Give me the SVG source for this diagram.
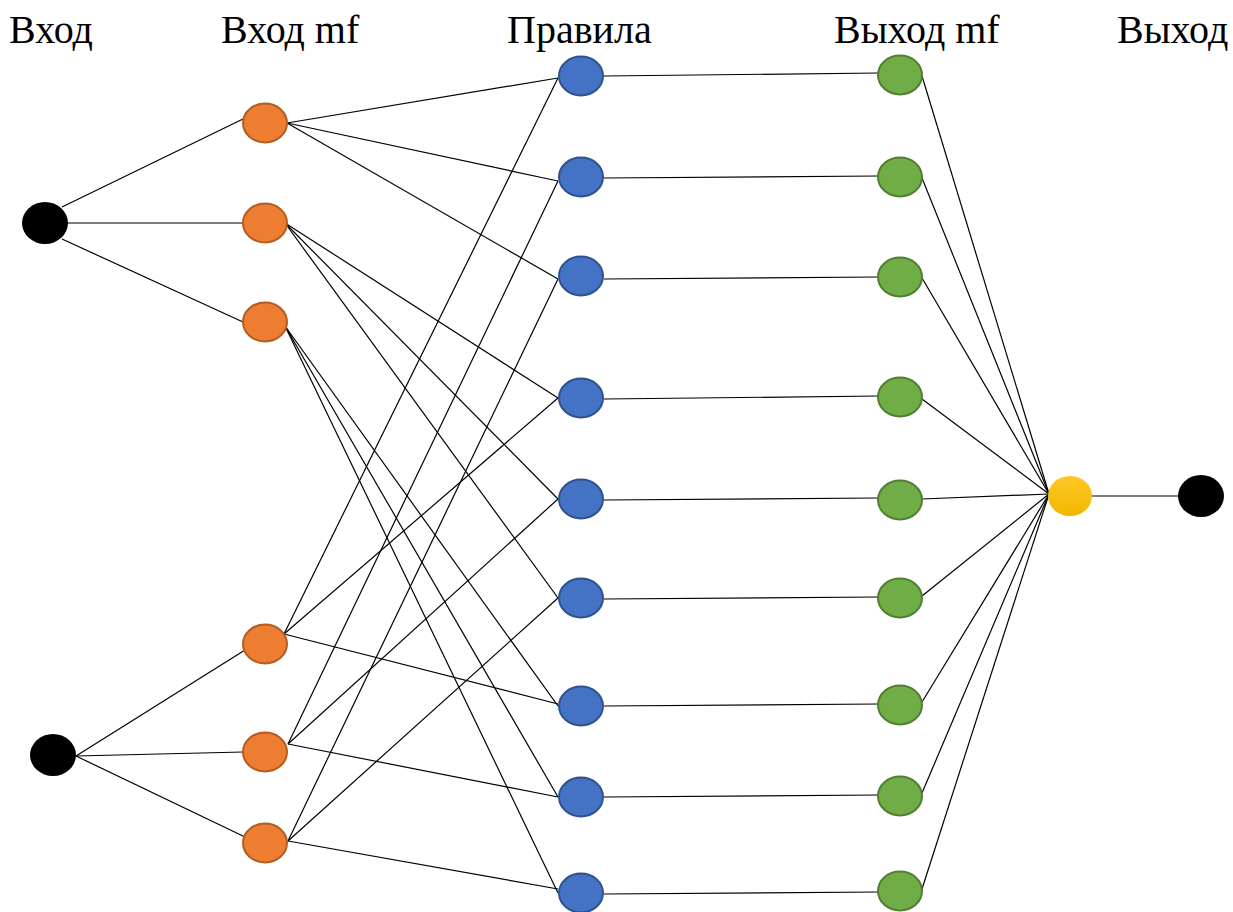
<svg xmlns="http://www.w3.org/2000/svg" width="1233" height="912" viewBox="0 0 1233 912">
<defs>
<linearGradient id="yg" x1="0" y1="0" x2="0" y2="1"><stop offset="0" stop-color="#FFC727"/><stop offset="1" stop-color="#F2B600"/></linearGradient>
</defs>
<style>
.t{font-family:"Liberation Serif","Times New Roman",serif;font-size:40px;fill:#000}
.e line{stroke:#000;stroke-width:1.2}
.blk{fill:#000}
.or{fill:#ED7D31;stroke:#B25D22;stroke-width:2}
.bl{fill:#4472C4;stroke:#2F528F;stroke-width:2}
.gr{fill:#70AD47;stroke:#507E32;stroke-width:2}
.ye{fill:url(#yg)}
</style>
<rect width="1233" height="912" fill="#fff"/>
<g id="labels">
<text class="t" x="9" y="43">Вход</text>
<text class="t" x="221" y="43">Вход mf</text>
<text class="t" x="507" y="43">Правила</text>
<text class="t" x="834" y="43">Выход mf</text>
<text class="t" x="1117" y="43">Выход</text>
</g>
<g id="connectors" class="e">
<line x1="62" y1="207" x2="243" y2="119"/>
<line x1="68" y1="223" x2="243" y2="223"/>
<line x1="62" y1="239" x2="243" y2="322"/>
<line x1="76" y1="756" x2="245" y2="650"/>
<line x1="76" y1="756" x2="243" y2="752"/>
<line x1="76" y1="756" x2="245" y2="837"/>
<line x1="287" y1="123" x2="558" y2="78"/>
<line x1="287" y1="123" x2="558" y2="181"/>
<line x1="287" y1="123" x2="558" y2="279"/>
<line x1="285" y1="223" x2="558" y2="398"/>
<line x1="285" y1="223" x2="558" y2="499"/>
<line x1="285" y1="223" x2="558" y2="598"/>
<line x1="285" y1="326" x2="558" y2="706"/>
<line x1="285" y1="326" x2="558" y2="797"/>
<line x1="285" y1="326" x2="558" y2="893"/>
<line x1="284" y1="634" x2="558" y2="78"/>
<line x1="284" y1="634" x2="558" y2="398"/>
<line x1="284" y1="634" x2="558" y2="704"/>
<line x1="288" y1="744" x2="558" y2="181"/>
<line x1="288" y1="744" x2="558" y2="499"/>
<line x1="288" y1="744" x2="558" y2="797"/>
<line x1="288" y1="841" x2="558" y2="279"/>
<line x1="288" y1="841" x2="558" y2="598"/>
<line x1="288" y1="841" x2="558" y2="889"/>
<line x1="604" y1="76" x2="879" y2="73"/>
<line x1="604" y1="178" x2="879" y2="176"/>
<line x1="604" y1="279" x2="879" y2="277"/>
<line x1="604" y1="399" x2="879" y2="396"/>
<line x1="604" y1="500" x2="879" y2="498"/>
<line x1="604" y1="599" x2="879" y2="597"/>
<line x1="604" y1="706" x2="879" y2="704"/>
<line x1="604" y1="797" x2="879" y2="795"/>
<line x1="604" y1="894" x2="879" y2="892"/>
<line x1="922" y1="76" x2="1049" y2="494"/>
<line x1="922" y1="178" x2="1049" y2="494"/>
<line x1="922" y1="278" x2="1049" y2="494"/>
<line x1="922" y1="399" x2="1049" y2="494"/>
<line x1="922" y1="499" x2="1049" y2="494"/>
<line x1="922" y1="596" x2="1049" y2="494"/>
<line x1="922" y1="702" x2="1049" y2="494"/>
<line x1="922" y1="793" x2="1049" y2="494"/>
<line x1="922" y1="889" x2="1049" y2="494"/>
<line x1="1070" y1="496" x2="1201" y2="496"/>
</g>
<g id="in1"><ellipse class="blk" cx="45" cy="223" rx="23" ry="21"/></g>
<g id="in2"><ellipse class="blk" cx="53" cy="755" rx="23" ry="21"/></g>
<g id="mf1"><ellipse class="or" cx="265" cy="123" rx="22" ry="19.5"/></g>
<g id="mf2"><ellipse class="or" cx="265" cy="223" rx="22" ry="19.5"/></g>
<g id="mf3"><ellipse class="or" cx="265" cy="322" rx="22" ry="19.5"/></g>
<g id="mf4"><ellipse class="or" cx="265" cy="644" rx="22" ry="19.5"/></g>
<g id="mf5"><ellipse class="or" cx="265" cy="752" rx="22" ry="19.5"/></g>
<g id="mf6"><ellipse class="or" cx="265" cy="843" rx="22" ry="19.5"/></g>
<g id="r1"><ellipse class="bl" cx="581" cy="76" rx="22" ry="19.5"/></g>
<g id="r2"><ellipse class="bl" cx="581" cy="177" rx="22" ry="19.5"/></g>
<g id="r3"><ellipse class="bl" cx="581" cy="276" rx="22" ry="19.5"/></g>
<g id="r4"><ellipse class="bl" cx="581" cy="398" rx="22" ry="19.5"/></g>
<g id="r5"><ellipse class="bl" cx="581" cy="499" rx="22" ry="19.5"/></g>
<g id="r6"><ellipse class="bl" cx="581" cy="598" rx="22" ry="19.5"/></g>
<g id="r7"><ellipse class="bl" cx="581" cy="706" rx="22" ry="19.5"/></g>
<g id="r8"><ellipse class="bl" cx="581" cy="797" rx="22" ry="19.5"/></g>
<g id="r9"><ellipse class="bl" cx="581" cy="893" rx="22" ry="19.5"/></g>
<g id="omf1"><ellipse class="gr" cx="900" cy="75" rx="22" ry="19.5"/></g>
<g id="omf2"><ellipse class="gr" cx="900" cy="177" rx="22" ry="19.5"/></g>
<g id="omf3"><ellipse class="gr" cx="900" cy="277" rx="22" ry="19.5"/></g>
<g id="omf4"><ellipse class="gr" cx="900" cy="397" rx="22" ry="19.5"/></g>
<g id="omf5"><ellipse class="gr" cx="900" cy="500" rx="22" ry="19.5"/></g>
<g id="omf6"><ellipse class="gr" cx="900" cy="598" rx="22" ry="19.5"/></g>
<g id="omf7"><ellipse class="gr" cx="900" cy="705" rx="22" ry="19.5"/></g>
<g id="omf8"><ellipse class="gr" cx="900" cy="796" rx="22" ry="19.5"/></g>
<g id="omf9"><ellipse class="gr" cx="900" cy="891" rx="22" ry="19.5"/></g>
<g id="agg"><ellipse class="ye" cx="1070" cy="496" rx="22" ry="20"/></g>
<g id="out"><ellipse class="blk" cx="1201" cy="496" rx="23" ry="21"/></g>
</svg>
